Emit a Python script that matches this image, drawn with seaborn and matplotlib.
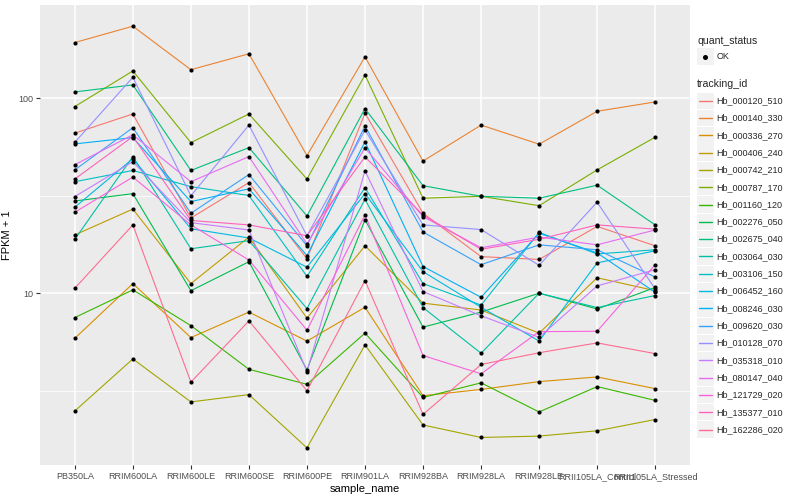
import numpy as np
import pandas as pd
import matplotlib
matplotlib.use("Agg")
import matplotlib.pyplot as plt
import seaborn as sns
from matplotlib.patches import Rectangle
from matplotlib.lines import Line2D

samples = ["PB350LA", "RRIM600LA", "RRIM600LE", "RRIM600SE", "RRIM600PE", "RRIM901LA",
           "RRIM928BA", "RRIM928LA", "RRIM928LE", "RRII105LA_Control", "RRII105LA_Stressed"]

tracking_ids = ["Hb_000120_510", "Hb_000140_330", "Hb_000336_270", "Hb_000406_240",
                "Hb_000742_210", "Hb_000787_170", "Hb_001160_120", "Hb_002276_050",
                "Hb_002675_040", "Hb_003064_030", "Hb_003106_150", "Hb_006452_160",
                "Hb_008246_030", "Hb_009620_030", "Hb_010128_070", "Hb_035318_010",
                "Hb_080147_040", "Hb_121729_020", "Hb_135377_010", "Hb_162286_020"]

Hb_000120_510 = [66.2, 83.0, 24.3, 36.9, 15.0, 83.8, 25.7, 15.4, 14.9, 22.0, 17.5]
Hb_000140_330 = [193, 234, 140, 169, 50.8, 163, 47.6, 72.8, 58.1, 85.7, 95.7]
Hb_000336_270 = [5.87, 11.2, 5.92, 8.00, 5.68, 8.47, 2.98, 3.21, 3.52, 3.72, 3.24]
Hb_000406_240 = [19.9, 27.0, 11.2, 19.4, 7.45, 17.5, 8.89, 8.20, 6.24, 12.0, 10.3]
Hb_000742_210 = [2.49, 4.60, 2.77, 3.02, 1.61, 5.43, 2.11, 1.82, 1.85, 1.97, 2.25]
Hb_000787_170 = [90.6, 138, 59.2, 83.0, 38.5, 131.5, 30.7, 31.4, 28.1, 42.9, 63.1]
Hb_001160_120 = [7.50, 10.4, 6.82, 4.07, 3.41, 6.24, 2.92, 3.47, 2.46, 3.32, 2.82]
Hb_002276_050 = [29.7, 32.4, 10.3, 14.5, 4.05, 23.8, 6.70, 8.00, 10.0, 8.30, 10.7]
Hb_002675_040 = [107.7, 117, 42.6, 55.8, 24.9, 88.5, 35.6, 31.4, 30.7, 35.8, 22.4]
Hb_003064_030 = [18.9, 50.2, 16.9, 18.6, 8.34, 30.3, 8.44, 4.92, 10.0, 8.44, 9.73]
Hb_003106_150 = [37.3, 42.6, 35.2, 31.7, 12.2, 34.8, 11.2, 8.69, 20.5, 15.9, 16.7]
Hb_006452_160 = [27.6, 49.0, 21.4, 19.2, 13.6, 32.4, 12.9, 8.47, 5.68, 14.3, 16.5]
Hb_008246_030 = [58.3, 62.8, 29.5, 34.3, 15.6, 59.7, 13.7, 9.53, 20.3, 16.1, 10.1]
Hb_009620_030 = [42.9, 70.6, 25.7, 40.6, 17.5, 72.1, 20.6, 14.0, 17.7, 16.7, 12.1]
Hb_010128_070 = [59.4, 128, 31.6, 72.8, 19.7, 68.7, 22.4, 21.2, 13.9, 29.3, 10.5]
Hb_035318_010 = [31.3, 47.3, 23.0, 21.1, 3.96, 42.4, 10.2, 7.66, 5.94, 10.9, 13.2]
Hb_080147_040 = [45.6, 64.9, 37.3, 50.2, 17.9, 55.6, 24.7, 17.1, 19.4, 17.7, 21.1]
Hb_121729_020 = [26.0, 39.4, 22.4, 14.8, 6.46, 25.2, 4.79, 3.86, 6.35, 6.38, 14.0]
Hb_135377_010 = [38.5, 63.6, 23.6, 22.4, 19.7, 50.0, 25.2, 16.8, 18.9, 22.4, 21.3]
Hb_162286_020 = [10.6, 22.4, 3.50, 7.21, 3.16, 11.6, 2.39, 4.31, 4.95, 5.56, 4.90]

series = [Hb_000120_510, Hb_000140_330, Hb_000336_270, Hb_000406_240, Hb_000742_210,
          Hb_000787_170, Hb_001160_120, Hb_002276_050, Hb_002675_040, Hb_003064_030,
          Hb_003106_150, Hb_006452_160, Hb_008246_030, Hb_009620_030, Hb_010128_070,
          Hb_035318_010, Hb_080147_040, Hb_121729_020, Hb_135377_010, Hb_162286_020]

palette = ["#F8766D", "#EA8331", "#D89000", "#C09B00", "#A3A500", "#7CAE00", "#39B600",
           "#00BB4E", "#00BF7D", "#00C1A3", "#00BFC4", "#00BAE0", "#00B0F6", "#35A2FF",
           "#9590FF", "#C77CFF", "#E76BF3", "#FA62DB", "#FF62BC", "#FF6C91"]

rows = []
for tid, vals in zip(tracking_ids, series):
    for s, v in zip(samples, vals):
        rows.append({"sample_name": s, "fpkm": v, "tracking_id": tid, "quant_status": "OK"})
df = pd.DataFrame(rows)
df["x"] = df["sample_name"].map({s: i for i, s in enumerate(samples)})

sns.set_theme(style="darkgrid")
plt.rcParams["font.family"] = ["Liberation Sans", "DejaVu Sans"]

W, H = 800, 500
fig = plt.figure(figsize=(8, 5), dpi=100)
fig.patch.set_facecolor("white")
L, R, T, B = 40, 690, 5, 465
ax = fig.add_axes([L / W, 1 - B / H, (R - L) / W, (B - T) / H])
ax.set_facecolor("#EBEBEB")

ax.set_yscale("log")
ax.set_ylim(1.315, 300.6)
ax.set_xlim(-0.6, len(samples) - 1 + 0.6)

ax.grid(False)
for v in [10, 100]:
    ax.axhline(v, color="white", lw=1.1, zorder=0.5)
for v in [10 ** 0.5, 10 ** 1.5]:
    ax.axhline(v, color="white", lw=0.55, zorder=0.5)
for i in range(len(samples)):
    ax.axvline(i, color="white", lw=1.1, zorder=0.5)

sns.lineplot(data=df, x="x", y="fpkm", hue="tracking_id", hue_order=tracking_ids,
             palette=palette, estimator=None, sort=False, legend=False, lw=0.8, ax=ax,
             zorder=2)
sns.scatterplot(data=df, x="x", y="fpkm", color="black", s=9, edgecolor="black",
                linewidth=0, legend=False, ax=ax, zorder=3)

ax.set_xticks(range(len(samples)))
ax.set_xticklabels(samples)
ax.set_yticks([10, 100])
ax.set_yticklabels(["10", "100"])
ax.yaxis.set_minor_locator(matplotlib.ticker.NullLocator())
ax.tick_params(axis="both", which="major", length=3, width=0.8, color="#333333",
               labelcolor="#4D4D4D", labelsize=6.5, pad=2, bottom=True, left=True)
for sp in ax.spines.values():
    sp.set_visible(False)
ax.set_xlabel("sample_name", fontsize=8, color="black", labelpad=2)
ax.set_ylabel("FPKM + 1", fontsize=8, color="black")
ax.yaxis.set_label_coords((12 - L) / (R - L), 0.5)

# legends (ggplot-style, drawn in figure pixel coordinates)
def fx(x):
    return x / W

def fy(y):
    return 1 - y / H

fig.text(fx(697), fy(40.7), "quant_status", fontsize=7.6, va="center", ha="left")
fig.add_artist(Rectangle((fx(697), fy(56.7 + 8.3)), 16.5 / W, 16.5 / H,
                         transform=fig.transFigure, facecolor="#F2F2F2", edgecolor="none"))
fig.add_artist(Line2D([fx(705.2)], [fy(56.7)], marker="o", markersize=2.6, color="black",
                      linestyle="none", transform=fig.transFigure))
fig.text(fx(716.7), fy(56.7), "OK", fontsize=6.5, va="center", ha="left")

fig.text(fx(697), fy(84), "tracking_id", fontsize=7.6, va="center", ha="left")
for i, (tid, col) in enumerate(zip(tracking_ids, palette)):
    yc = 100.7 + 17.31 * i
    fig.add_artist(Rectangle((fx(697), fy(yc + 8.2)), 16.5 / W, 16.4 / H,
                             transform=fig.transFigure, facecolor="#F2F2F2", edgecolor="none"))
    fig.add_artist(Line2D([fx(698.5), fx(712)], [fy(yc), fy(yc)], color=col, lw=1.0,
                          transform=fig.transFigure))
    fig.text(fx(716.7), fy(yc), tid, fontsize=6.5, va="center", ha="left")

fig.savefig("out.png", dpi=100, facecolor="white")
